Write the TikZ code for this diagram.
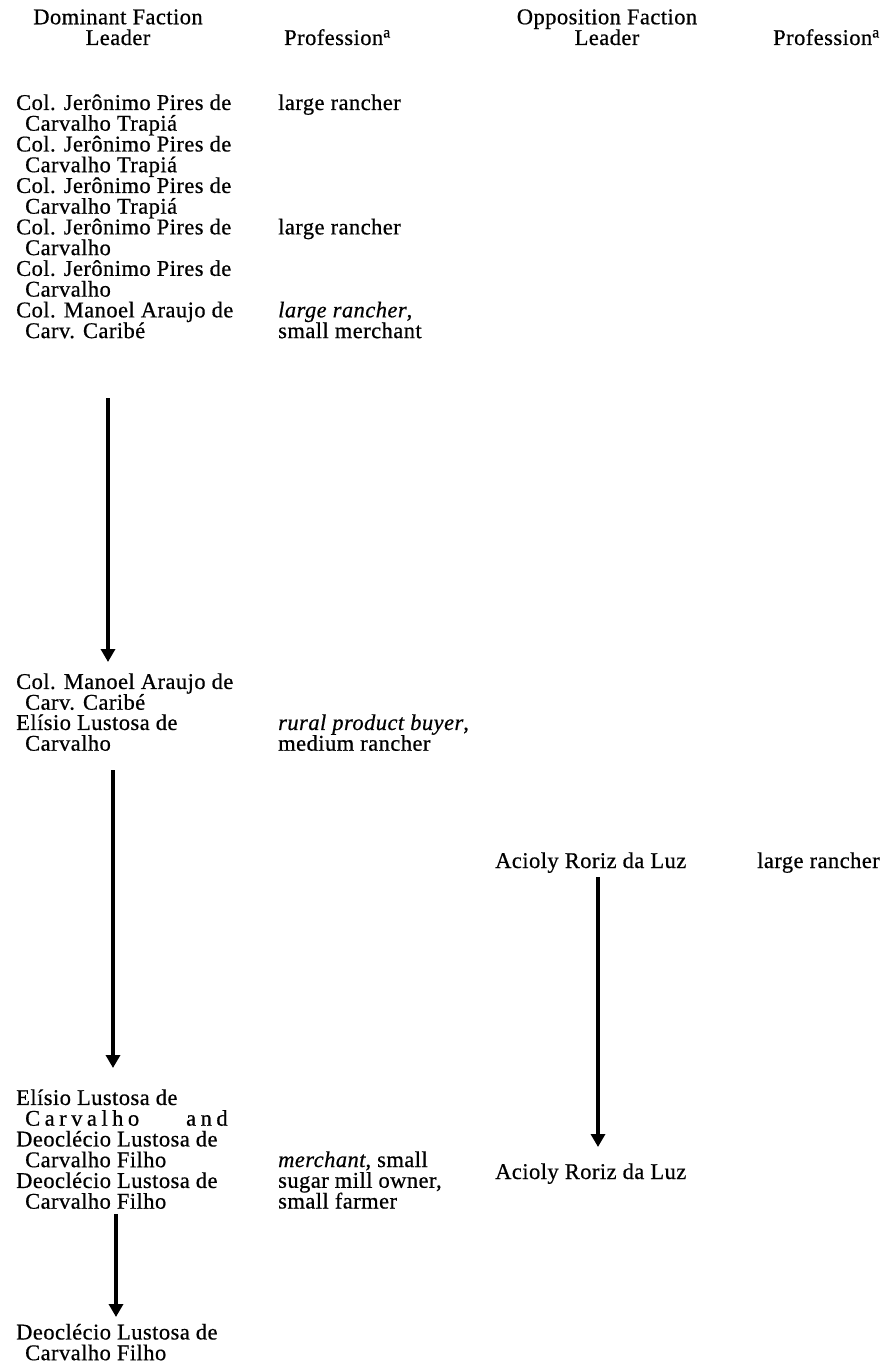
\documentclass[tikz,border=0pt]{standalone}
\usepackage{fontspec}
\setmainfont{Liberation Serif}[LetterSpace=2,FakeBold=0.6]
\newfontfamily\spaced{Liberation Serif}[LetterSpace=20,FakeBold=0.6]
\usetikzlibrary{arrows.meta}

\begin{document}
% Multi-line nodes are placed by the baseline of their last line.
\begin{tikzpicture}[x=1pt,y=-1pt,
  txt/.style={anchor=base west, inner sep=0pt, align=left,
    font=\fontsize{22.5}{20.74}\selectfont},
  head/.style={anchor=base, inner sep=0pt, align=center,
    font=\fontsize{22.5}{20.74}\selectfont},
  flow/.style={line width=3.8pt, -{Triangle[width=14pt,length=13pt]}}]
\useasboundingbox (0,0) rectangle (891,1364);

% column headings
\node[head] (hdom) at (118,45) {Dominant Faction\\Leader};
\node[txt]  (hprof1) at (284,45) {Profession\textsuperscript{a}};
\node[head] (hopp) at (607,45) {Opposition Faction\\Leader};
\node[txt]  (hprof2) at (773,45) {Profession\textsuperscript{a}};

% dominant faction, first period
\node[txt] (d1) at (16,130.7) {Col. Jerônimo Pires de\\\hspace*{9pt}Carvalho Trapiá};
\node[txt] (d2) at (16,172.2) {Col. Jerônimo Pires de\\\hspace*{9pt}Carvalho Trapiá};
\node[txt] (d3) at (16,213.7) {Col. Jerônimo Pires de\\\hspace*{9pt}Carvalho Trapiá};
\node[txt] (d4) at (16,255.1) {Col. Jerônimo Pires de\\\hspace*{9pt}Carvalho};
\node[txt] (d5) at (16,296.6) {Col. Jerônimo Pires de\\\hspace*{9pt}Carvalho};
\node[txt] (d6) at (16,338.1) {Col. Manoel Araujo de\\\hspace*{9pt}Carv. Caribé};

\node[txt] (p1) at (278,110)   {large rancher};
\node[txt] (p4) at (278,234.4) {large rancher};
\node[txt] (p6) at (278,338.1) {\textit{large rancher},\\small merchant};

% dominant faction, second period
\node[txt] (d7) at (16,709.7) {Col. Manoel Araujo de\\\hspace*{9pt}Carv. Caribé};
\node[txt] (d8) at (16,750.7) {Elísio Lustosa de\\\hspace*{9pt}Carvalho};
\node[txt] (p8) at (278,750.7) {\textit{rural product buyer},\\medium rancher};

% dominant faction, third period
\node[txt] (d9) at (16,1167.2) {Elísio Lustosa de\\\hspace*{9pt}{\spaced Carvalho}\hspace{47pt}{\spaced and}\\Deoclécio Lustosa de\\\hspace*{9pt}Carvalho Filho};
\node[txt] (d10) at (16,1208.7) {Deoclécio Lustosa de\\\hspace*{9pt}Carvalho Filho};
\node[txt] (p10) at (278,1208.5) {\textit{merchant}, small\\sugar mill owner,\\small farmer};

% dominant faction, last period
\node[txt] (d11) at (16,1360.2) {Deoclécio Lustosa de\\\hspace*{9pt}Carvalho Filho};

% opposition faction
\node[txt] (o1) at (495,868) {Acioly Roriz da Luz};
\node[txt] (q1) at (757,868) {large rancher};
\node[txt] (o2) at (495,1179) {Acioly Roriz da Luz};

% succession arrows
\coordinate (a1s) at (108,398);  \coordinate (a1e) at (108,662);
\coordinate (a2s) at (113,770);  \coordinate (a2e) at (113,1068);
\coordinate (a3s) at (598,877);  \coordinate (a3e) at (598,1147);
\coordinate (a4s) at (116,1214); \coordinate (a4e) at (116,1317);
\draw[flow] (a1s) -- (a1e);
\draw[flow] (a2s) -- (a2e);
\draw[flow] (a3s) -- (a3e);
\draw[flow] (a4s) -- (a4e);
\end{tikzpicture}
\end{document}
